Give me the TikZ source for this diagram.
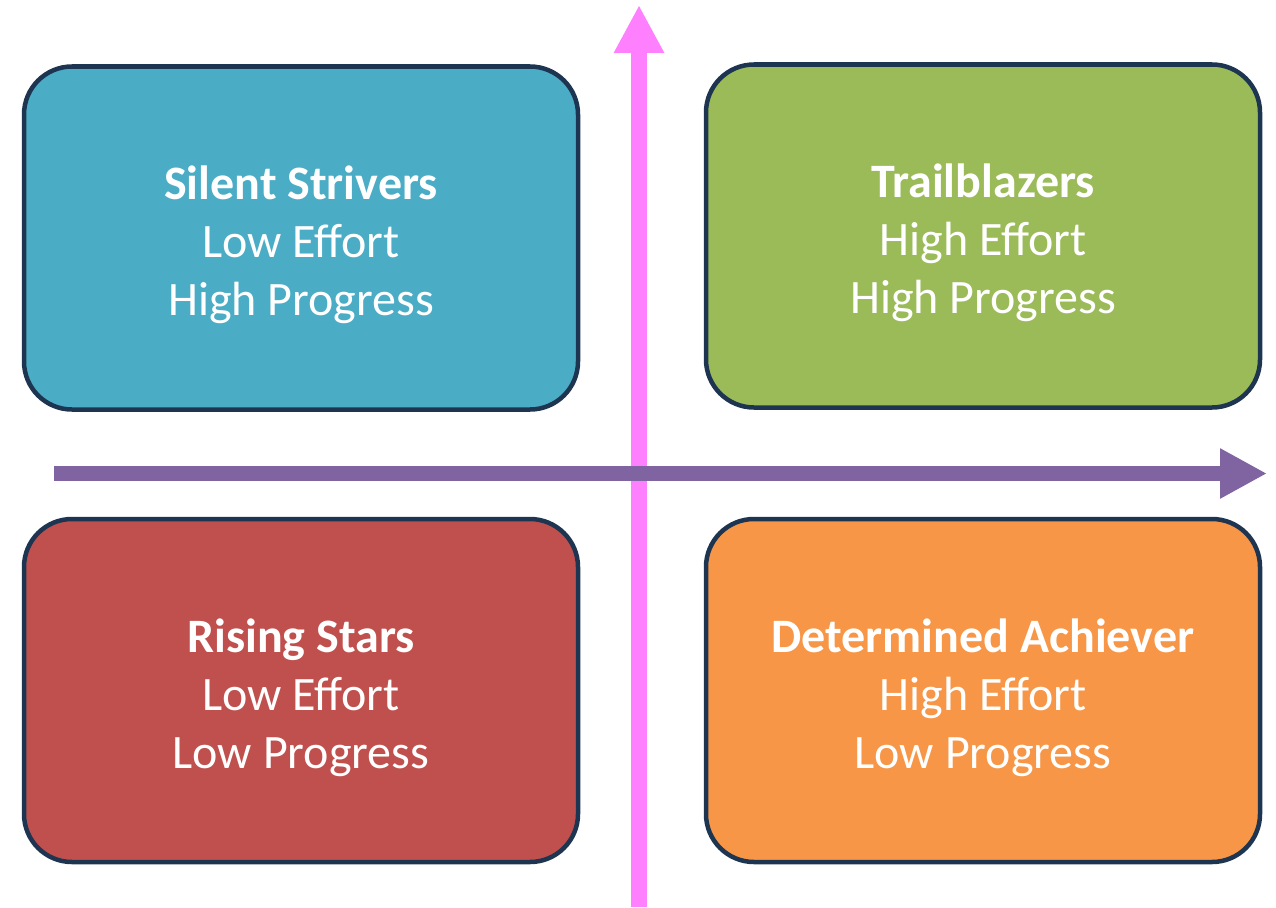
\documentclass[tikz,border=0pt]{standalone}
\usepackage{fontspec}
\setmainfont{Carlito}
\usetikzlibrary{arrows.meta}
\definecolor{boxline}{HTML}{1E3552}
\definecolor{cteal}{HTML}{4BACC6}
\definecolor{cgreen}{HTML}{9BBB59}
\definecolor{cred}{HTML}{C0504D}
\definecolor{corange}{HTML}{F79646}
\definecolor{axpink}{HTML}{FF80FF}
\definecolor{axpurple}{HTML}{8064A2}
\tikzset{
  quad/.style={draw=boxline, line width=4.5pt, rounded corners=48pt,
    minimum width=554pt, minimum height=343pt, inner sep=0pt,
    text=white, align=center, font=\fontsize{48}{58}\selectfont},
  vaxis/.style={draw=axpink, line width=16pt, -{Triangle[width=47pt,length=48pt]}},
  haxis/.style={draw=axpurple, line width=15.5pt, -{Triangle[width=47pt,length=47pt]}},
}
\newcommand{\ttl}[1]{\rule{0pt}{48pt}{\bfseries #1}\\}
\begin{document}
\begin{tikzpicture}[x=1pt,y=-1pt]
\useasboundingbox (0,0) rectangle (1276,907);
\node[quad, fill=cteal] (ss) at (301,238) {\ttl{Silent Strivers}Low Effort\\High Progress};
\node[quad, fill=cgreen] (tb) at (983,236) {\ttl{Trailblazers}High Effort\\High Progress};
\node[quad, fill=cred] (rs) at (301,690.5) {\ttl{Rising Stars}Low Effort\\Low Progress};
\node[quad, fill=corange] (da) at (983,690.5) {\ttl{Determined Achiever}High Effort\\Low Progress};
\coordinate (vb) at (639,907);
\coordinate (vt) at (639,5);
\coordinate (hl) at (54,473.5);
\coordinate (hr) at (1267,473.5);
\draw[vaxis] (vb) -- (vt);
\draw[haxis] (hl) -- (hr);
\end{tikzpicture}
\end{document}
